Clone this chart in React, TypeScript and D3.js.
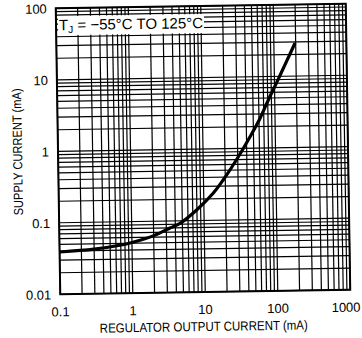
import React from "react";
import * as d3 from "d3";

const outputCurrent = [0.1, 0.3, 0.68, 1, 2, 3.37, 4.64, 7.93, 13.5, 18.7, 30.6, 44.8, 62, 81.6, 108, 150, 196];
const supplyCurrent = [0.039, 0.042, 0.047, 0.051, 0.063, 0.08, 0.0925, 0.141, 0.239, 0.365, 0.766, 1.45, 2.6, 4.69, 8.3, 16.5, 29];
const xTicks = [0.1, 1, 10, 100, 1000];
const yTicks = [0.01, 0.1, 1, 10, 100];
const xTickLabels = ["0.1", "1", "10", "100", "1000"];
const yTickLabels = ["0.01", "0.1", "1", "10", "100"];
const xTitle = "REGULATOR OUTPUT CURRENT (mA)";
const yTitle = "SUPPLY CURRENT (mA)";

const W = 362, H = 338;
const L = 58, R = 348, T = 6, B = 292;
const FONT = "'Liberation Sans', Arial, Helvetica, sans-serif";

function minorGrid(lo: number, hi: number) {
  const out: number[] = [];
  for (let e = Math.round(Math.log10(lo)); e < Math.round(Math.log10(hi)); e++) {
    for (let i = 1; i <= 9; i++) out.push(i * Math.pow(10, e));
  }
  out.push(hi);
  return out;
}

export default function App() {
  const x = d3.scaleLog().domain([0.1, 1000]).range([L, R]);
  const y = d3.scaleLog().domain([0.01, 100]).range([B, T]);
  const line = d3.line<number>()
    .x((_, i) => x(outputCurrent[i]))
    .y((d) => y(d))
    .curve(d3.curveCatmullRom.alpha(0.5));
  const xg = minorGrid(0.1, 1000);
  const yg = minorGrid(0.01, 100);
  return (
    <svg width={W} height={H} style={{ position: "absolute", left: 0, top: 0, background: "#fff" }}>
      <rect x={0} y={0} width={W} height={H} fill="#fff" />
      <g transform="rotate(-0.9, 203, 149)">
        <g stroke="#000" strokeWidth={1.2}>
          {xg.map((v, i) => (
            <line key={"x" + i} x1={x(v)} x2={x(v)} y1={T} y2={B} />
          ))}
          {yg.map((v, i) => (
            <line key={"y" + i} x1={L} x2={R} y1={y(v)} y2={y(v)} />
          ))}
        </g>
        <rect x={L} y={T} width={R - L} height={B - T} fill="none" stroke="#000" strokeWidth={2} />
        <rect x={L + 2} y={T + 8} width={146} height={19} fill="#fff" />
        <text x={L + 3} y={T + 22} fontFamily={FONT} fontSize={15} fill="#000">
          T<tspan fontSize={10} dy={3}>J</tspan>
          <tspan dy={-3}> = −55°C TO 125°C</tspan>
        </text>
        <path d={line(supplyCurrent) || ""} fill="none" stroke="#000" strokeWidth={3.2} />
        {xTicks.map((v, i) => (
          <text
            key={"xt" + i}
            x={i === xTicks.length - 1 ? 358 : x(v)}
            y={B + 22}
            textAnchor={i === xTicks.length - 1 ? "end" : "middle"}
            fontFamily={FONT}
            fontSize={13}
            fill="#000"
          >
            {xTickLabels[i]}
          </text>
        ))}
        {yTicks.map((v, i) => (
          <text key={"yt" + i} x={L - 9} y={y(v) + 5} textAnchor="end" fontFamily={FONT} fontSize={13} fill="#000">
            {yTickLabels[i]}
          </text>
        ))}
        <text x={201} y={331} textAnchor="middle" fontFamily={FONT} fontSize={13} textLength={208} lengthAdjust="spacingAndGlyphs" fill="#000">
          {xTitle}
        </text>
        <text transform={`translate(22, 149) rotate(-90)`} textAnchor="middle" fontFamily={FONT} fontSize={13} textLength={127} lengthAdjust="spacingAndGlyphs" fill="#000">
          {yTitle}
        </text>
      </g>
    </svg>
  );
}
